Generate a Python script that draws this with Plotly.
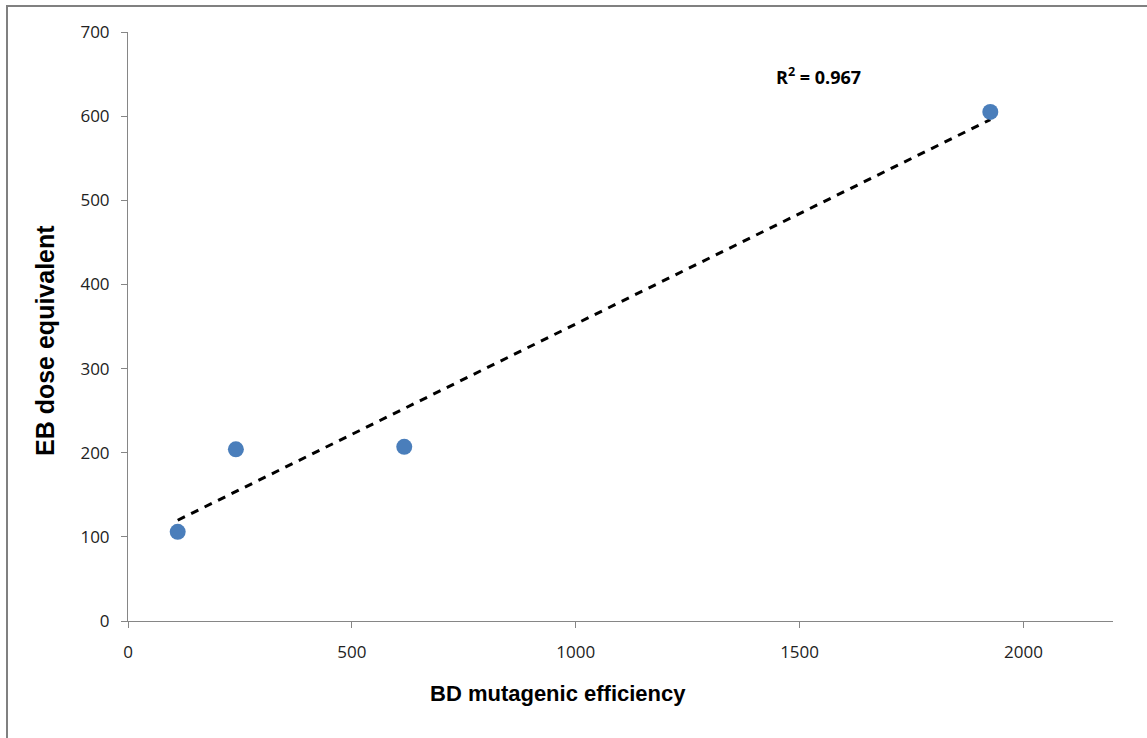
import numpy as np
import plotly.graph_objects as go

bd_efficiency = [111, 241, 617, 1926]
eb_dose = [106, 204, 207, 605]
x_ticks = [0, 500, 1000, 1500, 2000]
y_ticks = [0, 100, 200, 300, 400, 500, 600, 700]

xa = np.array(bd_efficiency, dtype=float)
ya = np.array(eb_dose, dtype=float)
slope, intercept = np.polyfit(xa, ya, 1)
pred = slope * xa + intercept
r2 = 1 - ((ya - pred) ** 2).sum() / ((ya - ya.mean()) ** 2).sum()
trend_x = [xa.min(), xa.max()]
trend_y = [slope * v + intercept for v in trend_x]

fig = go.Figure()
fig.add_trace(go.Scatter(x=trend_x, y=trend_y, mode="lines",
                         line=dict(color="black", width=3, dash="8px,7px"),
                         showlegend=False, hoverinfo="skip"))
fig.add_trace(go.Scatter(x=bd_efficiency, y=eb_dose, mode="markers",
                         marker=dict(size=16, color="#4A7EBB"),
                         showlegend=False))

axis_common = dict(showgrid=False, zeroline=False, showline=True,
                   linecolor="#868686", linewidth=1, ticks="outside",
                   ticklen=6, tickcolor="#868686",
                   tickfont=dict(family="Open Sans, Liberation Sans, sans-serif", size=17, color="#222"))
fig.update_xaxes(range=[0, 2200], tickvals=x_ticks, ticktext=[str(v) for v in x_ticks],
                 ticklabelstandoff=10, **axis_common)
fig.update_yaxes(range=[0, 700], tickvals=y_ticks, ticktext=[str(v) for v in y_ticks],
                 ticklabelstandoff=8, **axis_common)

W, H = 1147, 738
L, R, T, B = 128, 34, 32, 117
pw, ph = W - L - R, H - T - B
fig.update_layout(
    width=W, height=H,
    margin=dict(l=L, r=R, t=T, b=B),
    plot_bgcolor="white", paper_bgcolor="white",
)

def px(xp):
    return (xp - L) / pw

def py(yp):
    return (H - B - yp) / ph

fig.add_annotation(x=px(558), y=py(693), xref="paper", yref="paper", xanchor="center", yanchor="middle",
                   text="<b>BD mutagenic efficiency</b>", showarrow=False,
                   font=dict(family="Liberation Sans", size=22, color="black"))
fig.add_annotation(x=px(45), y=py(341), xref="paper", yref="paper", xanchor="center", yanchor="middle",
                   text="<b>EB dose equivalent</b>", textangle=-90, showarrow=False,
                   font=dict(family="Liberation Sans", size=25, color="black"))
fig.add_annotation(x=px(818), y=py(76), xref="paper", yref="paper", xanchor="center", yanchor="middle",
                   text=f"<b>R<sup>2</sup> = {r2:.3f}</b>", showarrow=False,
                   font=dict(family="Open Sans, Liberation Sans", size=18, color="black"))
fig.add_shape(type="rect", xref="paper", yref="paper", x0=px(7), x1=px(1160), y0=py(6), y1=py(760),
              line=dict(color="#808080", width=2), fillcolor="rgba(0,0,0,0)", layer="above")

fig.write_html("out.html")
